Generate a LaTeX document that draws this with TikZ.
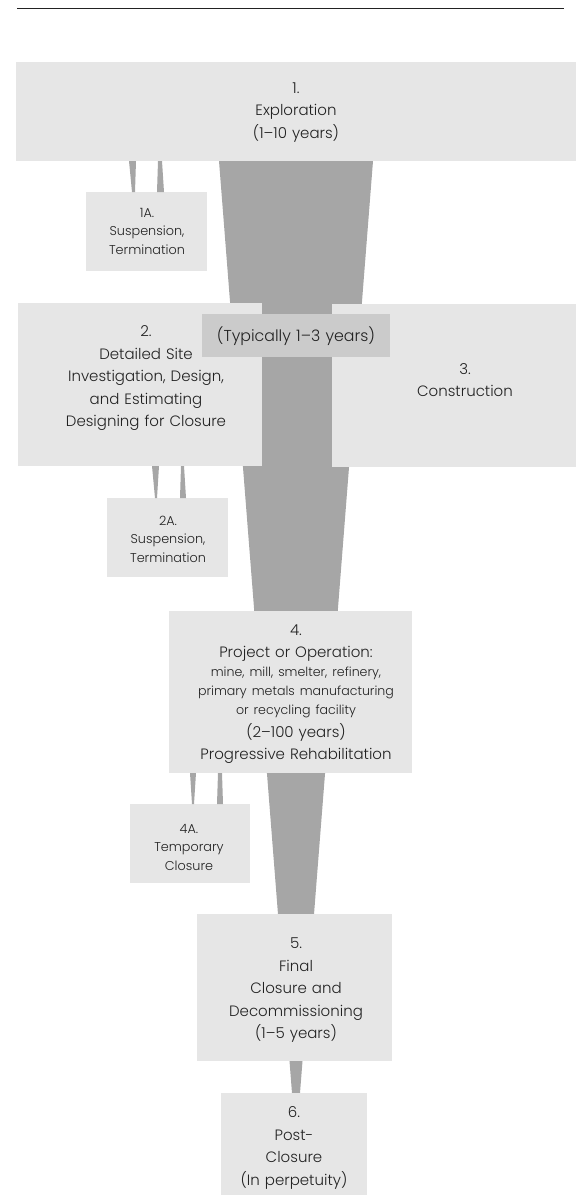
\documentclass[tikz,border=0pt]{standalone}
\usepackage{fontspec}
\IfFontExistsTF{Poppins Light}{\setmainfont{Poppins Light}}{\setmainfont{Poppins}}
\definecolor{boxgray}{HTML}{E6E6E6}
\definecolor{flowgray}{HTML}{A6A6A6}
\definecolor{taggray}{HTML}{CBCBCB}
\definecolor{ink}{HTML}{222222}
\tikzset{
  stagebox/.style={fill=boxgray, draw=none, inner sep=0pt, anchor=north west},
  tagbox/.style={fill=taggray, draw=none, inner sep=0pt, anchor=north west},
  bigtxt/.style={text=ink, align=center, inner sep=0pt, text width=#1,
     font=\fontsize{15}{22.5}\selectfont},
  bigtxt/.default=240pt,
  smalltxt/.style={text=ink, align=center, inner sep=0pt, text width=#1,
     font=\fontsize{12.8}{18.5}\selectfont},
  smalltxt/.default=120pt,
  flow/.style={fill=flowgray, draw=none},
}
\newcommand{\minorline}{\fontsize{12.6}{19}\selectfont}
\begin{document}
\begin{tikzpicture}[x=1pt,y=-1pt]
\useasboundingbox (0,0) rectangle (578,1196);
% top rule
\coordinate (ruleL) at (17,8.5);
\coordinate (ruleR) at (564,8.5);
\draw[ink, line width=1pt] (ruleL) -- (ruleR);

% main funnel (behind boxes)
\coordinate (fTL) at (219,161);
\coordinate (fTR) at (373,161);
\coordinate (fBR) at (300,1093);
\coordinate (fBL) at (292,1093);
\fill[flow] (fTL) -- (fTR) -- (fBR) -- (fBL) -- cycle;

% boxes
\node[stagebox, minimum width=560pt, minimum height=99pt] (b1) at (16,62) {};
\node[stagebox, minimum width=121pt, minimum height=79pt] (b1a) at (86,192) {};
\node[stagebox, minimum width=244pt, minimum height=163pt] (b2) at (18,303) {};
\node[stagebox, minimum width=244pt, minimum height=163pt] (b3) at (332,304) {};
\node[tagbox, minimum width=188pt, minimum height=43pt] (tag) at (202,314) {};
\node[stagebox, minimum width=121pt, minimum height=79pt] (b2a) at (107,498) {};
\node[stagebox, minimum width=243pt, minimum height=162pt] (b4) at (169,611) {};
\node[stagebox, minimum width=120pt, minimum height=79pt] (b4a) at (130,804) {};
\node[stagebox, minimum width=195pt, minimum height=147pt] (b5) at (197,914) {};
\node[stagebox, minimum width=146pt, minimum height=102pt] (b6) at (221,1093) {};

% side wedges: 1 <-> 1A
\fill[flow] (129,161) -- (136,161) -- (135,192) -- (132,192) -- cycle;
\fill[flow] (158,161) -- (162,161) -- (164,192) -- (157,192) -- cycle;
% 2 <-> 2A
\fill[flow] (152,466) -- (159,466) -- (157,498) -- (155,498) -- cycle;
\fill[flow] (181,466) -- (184,466) -- (186,498) -- (180,498) -- cycle;
% 4 <-> 4A
\fill[flow] (190,773) -- (196,773) -- (194,804) -- (192,804) -- cycle;
\fill[flow] (218,773) -- (222,773) -- (223,804) -- (217,804) -- cycle;

% labels
\node[bigtxt] (t1) at (296,112.5) {1.\par Exploration\par (1--10 years)};
\node[smalltxt] (t1a) at (147,231) {1A.\par Suspension,\par Termination};
\node[bigtxt=230pt] (t2) at (146,378.5) {2.\par Detailed Site\par Investigation, Design,\par and Estimating\par Designing for Closure};
\node[text=ink, align=center, inner sep=0pt, text width=188pt, font=\fontsize{15.8}{22}\selectfont] (ttag) at (296,336.5) {(Typically 1--3 years)};
\node[bigtxt=230pt] (t3) at (465,380) {3.\par Construction};
\node[smalltxt] (t2a) at (168,539) {2A.\par Suspension,\par Termination};
\node[bigtxt=240pt] (t4) at (296,694) {4.\par Project or Operation:\par
  {\minorline mine, mill, smelter, refinery,\par primary metals manufacturing\par or recycling facility\par}
  (2--100 years)\par Progressive Rehabilitation};
\node[smalltxt] (t4a) at (189,847) {4A.\par Temporary\par Closure};
\node[bigtxt=190pt] (t5) at (296,990.5) {5.\par Final\par Closure and\par Decommissioning\par (1--5 years)};
\node[bigtxt=140pt] (t6) at (294,1148) {6.\par Post-\par Closure\par (In perpetuity)};
\end{tikzpicture}
\end{document}
